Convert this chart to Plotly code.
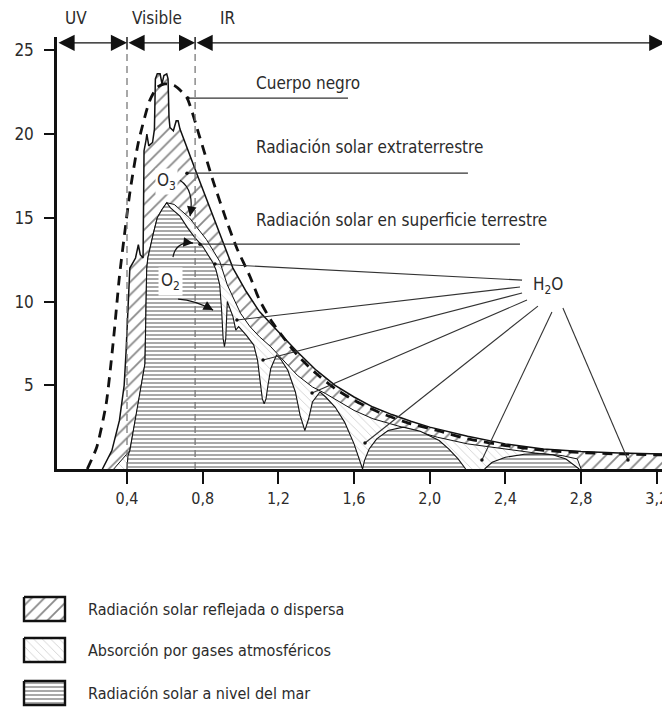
import plotly.graph_objects as go

# ---------------- data (wavelength in µm, irradiance) ----------------
# Extraterrestrial solar radiation (upper outline)
wl_extra = [0.27, 0.32, 0.36, 0.385, 0.395, 0.405, 0.415, 0.43, 0.445, 0.46,
            0.47, 0.485, 0.49, 0.50, 0.505, 0.515, 0.535, 0.545, 0.55, 0.56,
            0.575, 0.585, 0.595, 0.61, 0.617, 0.622, 0.627, 0.645, 0.66, 0.67,
            0.68, 0.77, 0.855, 0.96, 1.03, 1.1, 1.2, 1.3, 1.4, 1.5,
            1.6, 1.7, 1.8, 1.9, 2.0, 2.2, 2.4, 2.6, 2.8, 3.0, 3.27]
irr_extra = [0, 1.1, 2.9, 5.0, 7.0, 10.0, 12.0, 12.3, 12.6, 13.4,
             12.8, 12.6, 19.0, 19.6, 20.0, 19.3, 19.5, 20.3, 23.3, 23.6,
             23.6, 23.0, 23.5, 23.6, 23.3, 21.0, 20.4, 20.2, 20.8, 20.8,
             20.3, 17.6, 15.1, 12.0, 10.6, 9.4, 8.2, 7.0, 5.9, 5.0,
             4.3, 3.7, 3.25, 2.85, 2.5, 1.95, 1.5, 1.2, 1.05, 0.95, 0.88]

# Radiation reaching the surface before gas absorption (lower edge of reflected band)
wl_env = [0.33, 0.37, 0.405, 0.415, 0.46, 0.495, 0.504, 0.51, 0.54, 0.56,
          0.585, 0.61, 0.65, 0.73, 0.82, 0.89, 0.93, 0.97, 1.0, 1.05,
          1.1, 1.16, 1.21, 1.3, 1.38, 1.45, 1.51, 1.6, 1.7, 1.79,
          1.86, 2.04, 2.2, 2.4, 2.56, 2.7, 2.78, 2.8]
irr_env = [0, 0.5, 1.0, 1.1, 3.9, 6.3, 11.9, 12.6, 14.1, 15.0,
           15.5, 15.9, 15.8, 15.0, 13.7, 12.4, 11.0, 10.0, 9.3, 8.5,
           7.9, 7.3, 6.7, 5.6, 4.9, 4.5, 4.1, 3.5, 3.0, 2.7,
           2.5, 1.9, 1.5, 1.2, 0.95, 0.8, 0.6, 0]

# Solar radiation at sea level (with absorption bands)
wl_sea = [0.40, 0.405, 0.415, 0.46, 0.495, 0.504, 0.51, 0.54, 0.56, 0.585,
          0.61, 0.63, 0.68, 0.72, 0.76, 0.80, 0.855, 0.87, 0.89, 0.9,
          0.908, 0.915, 0.922, 0.93, 0.96, 0.975, 0.99, 1.03, 1.07, 1.09,
          1.105, 1.115, 1.125, 1.135, 1.145, 1.16, 1.19, 1.21, 1.25, 1.29,
          1.315, 1.34, 1.36, 1.38, 1.42, 1.45, 1.5, 1.55, 1.6, 1.63,
          1.645, 1.655, 1.68, 1.72, 1.78, 1.86, 1.95, 2.05, 2.1, 2.15, 2.19]
irr_sea = [0, 0.8, 1.1, 3.9, 6.3, 11.9, 12.6, 14.1, 15.0, 15.5,
           15.9, 15.6, 15.1, 14.4, 13.8, 13.3, 12.3, 11.9, 11.0, 9.5,
           7.8, 7.3, 7.8, 10.0, 9.1, 8.3, 8.5, 8.0, 7.4, 6.5,
           5.0, 4.2, 3.9, 4.2, 5.0, 6.0, 6.8, 6.6, 5.9, 4.6,
           3.2, 2.3, 3.0, 4.0, 4.6, 4.3, 3.7, 2.8, 1.5, 0.5,
           0, 0.5, 1.2, 1.8, 2.3, 2.5, 2.25, 1.7, 1.2, 0.6, 0]
wl_sea2 = [2.29, 2.33, 2.4, 2.5, 2.57, 2.65, 2.72, 2.79]
irr_sea2 = [0, 0.4, 0.7, 0.88, 0.92, 0.85, 0.6, 0]

# Black body curve
wl_bb = [0.19, 0.24, 0.29, 0.33, 0.36, 0.39, 0.415, 0.46, 0.52, 0.56,
         0.6, 0.65, 0.715, 0.785, 0.855, 0.93, 0.98, 1.05, 1.1, 1.16,
         1.23, 1.3, 1.4, 1.5, 1.6, 1.75, 1.9, 2.04, 2.2, 2.4,
         2.6, 2.8, 3.0, 3.27]
irr_bb = [0, 1.3, 3.9, 7.9, 11.5, 14.3, 16.5, 19.5, 22.0, 22.8,
          23.0, 22.9, 22.2, 19.8, 17.2, 14.7, 13.2, 11.5, 10.1, 8.9,
          7.8, 6.8, 5.7, 4.8, 4.1, 3.3, 2.7, 2.3, 1.8, 1.4,
          1.12, 0.98, 0.9, 0.83]

x_ticks = [0.4, 0.8, 1.2, 1.6, 2.0, 2.4, 2.8, 3.2]
x_ticktext = ["0,4", "0,8", "1,2", "1,6", "2,0", "2,4", "2,8", "3,2"]
y_ticks = [5, 10, 15, 20, 25]
band_edges = [0.4, 0.76]
band_labels = ["UV", "Visible", "IR"]
legend_labels = ["Radiación solar reflejada o dispersa",
                 "Absorción por gases atmosféricos",
                 "Radiación solar a nivel del mar"]

# H2O absorption pointers (label end -> band)
h2o_from = [(2.488, 11.28), (2.477, 10.87), (2.488, 10.51), (2.514, 10.09),
            (2.572, 9.73), (2.646, 9.37), (2.704, 9.61)]
h2o_to = [(0.865, 12.24), (0.981, 8.90), (1.119, 6.51), (1.378, 4.54),
          (1.658, 1.55), (2.276, 0.54), (3.048, 0.54)]

# ---------------- styling ----------------
FONT = "Liberation Sans Narrow, DejaVu Sans Condensed, Arial Narrow, sans-serif"
TXT = "#2b2b2b"
INK = "#111111"

# The page body has an 8px default margin: the figure is sized so that it
# ends at the 670x709 window edges.
OFF = 8
W, H = 670 - OFF, 709 - OFF

P_REFL = dict(shape="/", fgcolor="#111111", bgcolor="white", size=9, solidity=0.2)
P_ABS = dict(shape="\\", fgcolor="#8a8a8a", bgcolor="white", size=6, solidity=0.12)
P_SEA = dict(shape="-", fgcolor="#303030", bgcolor="white", size=4, solidity=0.42)

fig = go.Figure()

fig.add_trace(go.Scatter(x=wl_extra, y=irr_extra, mode="lines", fill="tozeroy",
                         fillcolor="white", fillpattern=P_REFL,
                         line=dict(color=INK, width=1.5)))
fig.add_trace(go.Scatter(x=wl_env, y=irr_env, mode="lines", fill="tozeroy",
                         fillcolor="white", fillpattern=P_ABS,
                         line=dict(color=INK, width=1.0)))
for wx, wy in [(wl_sea, irr_sea), (wl_sea2, irr_sea2)]:
    fig.add_trace(go.Scatter(x=wx, y=wy, mode="lines", fill="tozeroy",
                             fillcolor="white", fillpattern=P_SEA,
                             line=dict(color=INK, width=1.1)))
fig.add_trace(go.Scatter(x=wl_bb, y=irr_bb, mode="lines",
                         line=dict(color=INK, width=2.8, dash="10px,7px",
                                   shape="spline", smoothing=0.6)))

# H2O pointer lines
lx, ly = [], []
for (x0, y0), (x1, y1) in zip(h2o_from, h2o_to):
    lx += [x0, x1, None]
    ly += [y0, y1, None]
fig.add_trace(go.Scatter(x=lx, y=ly, mode="lines", line=dict(color="#333", width=1.1)))
fig.add_trace(go.Scatter(x=[p[0] for p in h2o_to], y=[p[1] for p in h2o_to],
                         mode="markers", marker=dict(color=INK, size=3.5)))

# Curve labels with leader lines
labels = [("Cuerpo negro", 1.071, 23.04, (0.722, 1.568, 22.15)),
          ("Radiación solar extraterrestre", 1.071, 19.24, (0.717, 2.202, 17.67)),
          ("Radiación solar en superficie terrestre", 1.071, 14.85, (0.786, 2.477, 13.43))]
for txt, tx, ty, (x0, x1, yl) in labels:
    fig.add_trace(go.Scatter(x=[x0, x1], y=[yl, yl], mode="lines",
                             line=dict(color="#333", width=1.1)))
    fig.add_trace(go.Scatter(x=[x0], y=[yl], mode="markers",
                             marker=dict(color=INK, size=3.5)))
    fig.add_annotation(x=tx, y=ty, text=txt, showarrow=False, xanchor="left",
                       yanchor="middle", font=dict(family=FONT, size=17, color=TXT))

# Band boundary dashed lines
for xb in band_edges:
    fig.add_shape(type="line", x0=xb, x1=xb, y0=0, y1=24.8, xref="x", yref="y",
                  line=dict(color="#7a7a7a", width=1.3, dash="7px,5px"))
    fig.add_shape(type="line", x0=xb, x1=xb, y0=25.05, y1=25.8, xref="x", yref="y",
                  line=dict(color=INK, width=1.4))

# Band arrows
row_y = 25.45
spans = [(0.03, band_edges[0]), (band_edges[0], band_edges[1]), (band_edges[1], 3.245)]
for a, b in spans:
    fig.add_annotation(x=b, y=row_y, ax=a, ay=row_y, xref="x", yref="y", axref="x", ayref="y",
                       text="", showarrow=True, arrowside="end+start",
                       arrowhead=2, startarrowhead=2, arrowsize=2.3, startarrowsize=2.3,
                       arrowwidth=1.4, arrowcolor=INK, standoff=0, startstandoff=0)
label_x = [0.130, 0.561, 0.936]
label_py = 18  # page pixel row of the band labels
for t, xl in zip(band_labels, label_x):
    fig.add_annotation(x=xl, y=1 - (label_py - OFF) / H, text=t, showarrow=False,
                       xref="x", yref="paper", yanchor="middle",
                       font=dict(family=FONT, size=17, color=TXT))

# Gas labels
fig.add_annotation(x=0.611, y=17.2, text="O<sub>3</sub>", showarrow=False,
                   font=dict(family=FONT, size=17, color=TXT), bgcolor="white", borderpad=1)
fig.add_annotation(x=0.632, y=11.22, text="O<sub>2</sub>", showarrow=False,
                   font=dict(family=FONT, size=17, color=TXT), bgcolor="white", borderpad=2)
fig.add_annotation(x=2.625, y=10.93, text="H<sub>2</sub>O", showarrow=False,
                   font=dict(family=FONT, size=17, color=TXT), bgcolor="white", borderpad=1)

# Curved arrows (start, control, end)
curves = [((0.680, 17.25), (0.759, 16.66), (0.733, 15.10)),
          ((0.643, 12.66), (0.659, 13.61), (0.749, 13.49)),
          ((0.670, 10.15), (0.759, 10.09), (0.855, 9.49))]
for (sx, sy), (cx, cy), (ex, ey) in curves:
    fig.add_shape(type="path", path=f"M {sx},{sy} Q {cx},{cy} {ex},{ey}",
                  xref="x", yref="y", line=dict(color=INK, width=1.2))
    fig.add_annotation(x=ex, y=ey, ax=ex - 0.3 * (ex - cx), ay=ey - 0.3 * (ey - cy),
                       xref="x", yref="y", axref="x", ayref="y", text="", showarrow=True,
                       arrowhead=2, arrowsize=1.6, arrowwidth=1.2, arrowcolor=INK, standoff=0)

# Legend (page-pixel axes)
leg_boxes = [(597, 621), (638, 662), (681, 705)]
leg_pats = [P_REFL, P_ABS, P_SEA]
for (y0, y1), pat, lab in zip(leg_boxes, leg_pats, legend_labels):
    fig.add_trace(go.Scatter(x=[24, 65, 65, 24, 24], y=[y0, y0, y1, y1, y0],
                             xaxis="x2", yaxis="y2", mode="lines", fill="toself",
                             fillcolor="white", fillpattern=pat,
                             line=dict(color=INK, width=2.4)))
    fig.add_annotation(x=86, y=(y0 + y1) / 2, xref="x2", yref="y2", text=lab,
                       showarrow=False, xanchor="left", yanchor="middle",
                       font=dict(family=FONT, size=16, color=TXT))

# axis geometry in page pixels
ax_left, ax_right, ax_top, ax_bottom = 57, 670, 37, 469

tickfont = dict(family=FONT, size=16, color=TXT)
fig.update_layout(
    width=W, height=H, margin=dict(l=0, r=0, t=0, b=0),
    paper_bgcolor="white", plot_bgcolor="rgba(0,0,0,0)", showlegend=False,
    hovermode=False,
    xaxis=dict(domain=[(ax_left - OFF) / W, (ax_right - OFF) / W], range=[0.03, 3.27], anchor="y",
               showline=True, linecolor=INK, linewidth=2.5, showgrid=False, zeroline=False,
               ticks="outside", ticklen=12, tickwidth=2, tickcolor=INK,
               tickvals=x_ticks, ticktext=x_ticktext, tickfont=tickfont,
               ticklabelstandoff=1),
    yaxis=dict(domain=[(709 - ax_bottom) / H, (709 - ax_top) / H], range=[0, 25.8], anchor="x",
               showline=True, linecolor=INK, linewidth=2.5, showgrid=False, zeroline=False,
               ticks="outside", ticklen=10, tickwidth=2, tickcolor=INK,
               tickvals=y_ticks, tickfont=dict(family=FONT, size=17, color=TXT),
               ticklabelstandoff=7),
    xaxis2=dict(domain=[0, 1], range=[OFF, 670], anchor="y2", visible=False),
    yaxis2=dict(domain=[0, (709 - ax_bottom) / H], range=[709, ax_bottom], anchor="x2",
                visible=False),
)

fig.write_html("out.html")
